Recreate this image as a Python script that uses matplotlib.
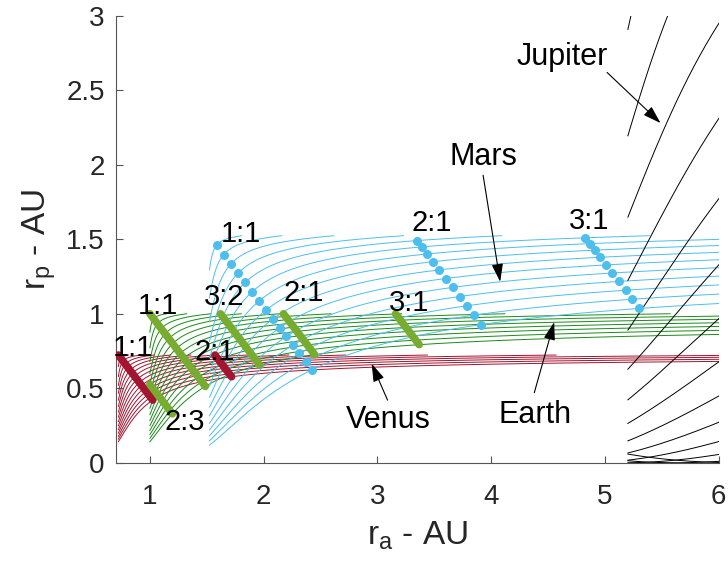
import numpy as np
import matplotlib
matplotlib.use("Agg")
import matplotlib.pyplot as plt

plt.rcParams['font.family'] = ['Liberation Sans', 'DejaVu Sans']
plt.rcParams['mathtext.fontset'] = 'custom'
plt.rcParams['mathtext.rm'] = 'Liberation Sans'

# 行星資料 (AU, km/s)
planet_names = ["Venus", "Earth", "Mars", "Jupiter"]
planet_au = [0.723, 1.0, 1.524, 5.203]
planet_kms = [35.02, 29.78, 24.13, 13.06]
planet_colors = ["#A2142F", "#1B8A1B", "#4DBEEE", "#000000"]

# v_inf 等值線 (km/s)
vinf_kms = [1, 2, 3, 4, 5, 6, 7, 8, 9, 10, 11, 12, 13, 14, 15]
vinf_max = 15

# 共振 (太空船週期 : 行星週期)
venus_res = [(1, 1), (2, 1)]
earth_res = [(1, 1), (3, 2), (2, 1), (3, 1), (2, 3)]
mars_res = [(1, 1), (2, 1), (3, 1)]


def contour(R, w):
    al = np.linspace(0, np.pi, 6000)
    vt = 1 + w * np.cos(al)
    vr = w * np.sin(al)
    v2 = vt**2 + vr**2
    ok = v2 < 1.99999
    a = 1 / (2 - v2[ok])
    p = vt[ok]**2
    e = np.sqrt(np.clip(1 - p / a, 0, None))
    return R * a * (1 + e), R * a * (1 - e)


def resonance(R, ratio, ws):
    a = ratio ** (2 / 3)
    v2 = 2 - 1 / a
    c = (v2 - 1 - ws**2) / (2 * ws)
    ok = np.abs(c) <= 1
    vt = 1 + ws[ok] * c[ok]
    e = np.sqrt(np.clip(1 - vt**2 / a, 0, None))
    return R * a * (1 + e), R * a * (1 - e)


fig = plt.figure(figsize=(7.28, 5.65), dpi=100)
ax = fig.add_axes([0.159, 0.181, 0.828, 0.791])

# 細線: 各行星的 v_inf 等值線
for R, V, col in zip(planet_au, planet_kms, planet_colors):
    for v in vinf_kms:
        x, y = contour(R, v / V)
        ax.plot(x, y, color=col, lw=0.7)

# 粗線: 金星、地球共振
for R, V, res, col in [(planet_au[0], planet_kms[0], venus_res, "#A2142F"),
                       (planet_au[1], planet_kms[1], earth_res, "#77AC30")]:
    ws = np.linspace(1e-4, vinf_max / V, 500)
    for n, m in res:
        x, y = resonance(R, n / m, ws)
        ax.plot(x, y, color=col, lw=5.5, solid_capstyle='round', zorder=5)

# 點: 火星共振
ws = np.array(vinf_kms) / planet_kms[2]
for n, m in mars_res:
    x, y = resonance(planet_au[2], n / m, ws)
    ax.plot(x, y, 'o', color="#4DBEEE", ms=6.5, mec='none', zorder=5)

# 共振標籤
res_labels = ["1:1", "2:1", "1:1", "2:3", "3:2", "2:1", "3:1", "1:1", "2:1", "3:1"]
res_xy = [(0.85, 0.77), (1.57, 0.745), (1.07, 1.05), (1.31, 0.275), (1.655, 1.11),
          (2.355, 1.14), (3.28, 1.07), (1.80, 1.535), (3.475, 1.61), (4.86, 1.62)]
for s, (x, y) in zip(res_labels, res_xy):
    ax.text(x, y, s, fontsize=21, ha='center', va='center', zorder=6)

# 行星標籤與箭頭
text_xy = [(3.10, 0.29), (4.39, 0.32), (3.93, 2.05), (4.63, 2.725)]
tail_xy = [(3.09, 0.42), (4.38, 0.47), (3.93, 1.93), (5.02, 2.62)]
tip_xy = [(2.95, 0.665), (4.555, 0.944), (4.08, 1.215), (5.49, 2.28)]
for name, t, s, h in zip(planet_names, text_xy, tail_xy, tip_xy):
    ax.text(t[0], t[1], name, fontsize=22, ha='center', va='center')
    ax.annotate("", xy=h, xytext=s,
                arrowprops=dict(arrowstyle='-|>,head_length=1.1,head_width=0.35',
                                color='k', lw=0.8, shrinkA=0, shrinkB=0))

ax.set_xlim(0.7, 6)
ax.set_ylim(0, 3)
ax.set_xticks([1, 2, 3, 4, 5, 6])
ax.set_yticks([0, 0.5, 1, 1.5, 2, 2.5, 3])
ax.set_yticklabels(["0", "0.5", "1", "1.5", "2", "2.5", "3"])
ax.spines['top'].set_visible(False)
ax.spines['right'].set_visible(False)
for sp in ['left', 'bottom']:
    ax.spines[sp].set_color('#555555')
    ax.spines[sp].set_linewidth(0.8)
ax.tick_params(direction='in', length=5, width=0.8, color='#555555',
               labelsize=20, labelcolor='#262626')
ax.tick_params(axis='x', pad=15)
ax.tick_params(axis='y', pad=8)
ax.set_xlabel(r"r$_\mathregular{a}$ - AU", fontsize=24, color='#262626', labelpad=7)
ax.set_ylabel(r"r$_\mathregular{p}$ - AU", fontsize=24, color='#262626', labelpad=6)

fig.savefig("out.png", dpi=100)
